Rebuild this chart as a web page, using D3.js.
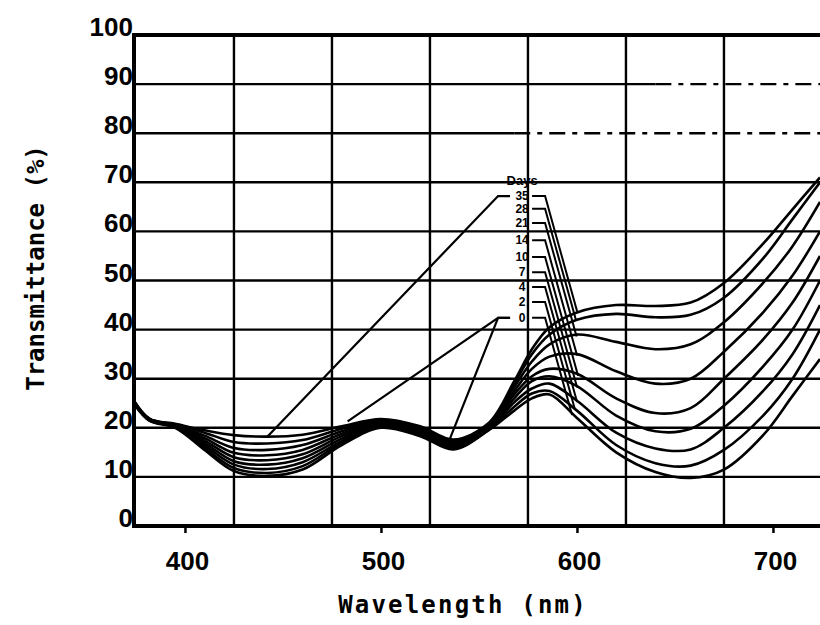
<!DOCTYPE html>
<html>
<head>
<meta charset="utf-8">
<script src="https://cdn.jsdelivr.net/npm/d3@7/dist/d3.min.js"></script>
<style>
  body { margin: 0; background: #fff; }
  svg { display: block; }
</style>
</head>
<body>
<svg id="chart" width="820" height="625"></svg>
<script>
// wavelengths where the spectra were read (nm)
const wavelengths = [374, 382, 395, 410, 425, 442, 460, 480, 500, 520, 537, 555, 568, 577, 586, 600, 620, 640, 658, 675, 695, 710, 724];

// transmittance (%) per storage day
const day35 = [25.5, 21.8, 20.8, 19.5, 18.5, 18.2, 18.6, 20.3, 21.8, 20.3, 17.6, 21.0, 29.5, 36.0, 40.5, 43.5, 45.0, 44.8, 45.5, 49.5, 57.5, 64.5, 71.0];
const day28 = [25.4, 21.8, 20.7, 19.0, 17.1, 16.8, 17.5, 19.8, 21.6, 20.1, 17.4, 20.8, 29.0, 35.0, 39.0, 42.0, 43.2, 42.5, 43.0, 46.5, 54.5, 62.5, 70.0];
const day21 = [25.3, 21.7, 20.6, 18.4, 15.9, 15.5, 16.5, 19.3, 21.4, 19.9, 17.2, 20.6, 28.3, 33.5, 37.0, 39.0, 37.5, 36.0, 37.0, 41.5, 49.5, 57.0, 66.0];
const day14 = [25.2, 21.7, 20.5, 17.9, 14.9, 14.4, 15.5, 18.8, 21.2, 19.6, 17.0, 20.4, 27.5, 32.0, 34.5, 35.0, 31.5, 29.0, 30.0, 35.5, 43.5, 51.0, 60.0];
const day10 = [25.1, 21.6, 20.4, 17.4, 14.0, 13.4, 14.6, 18.3, 21.0, 19.3, 16.7, 20.2, 26.8, 30.5, 32.0, 31.0, 26.0, 23.0, 24.0, 30.0, 38.0, 45.5, 55.0];
const day7  = [25.1, 21.6, 20.3, 16.9, 13.2, 12.5, 13.8, 17.8, 20.8, 19.0, 16.4, 20.0, 26.0, 29.5, 30.5, 28.5, 22.5, 19.3, 19.8, 24.5, 32.5, 40.0, 50.0];
const day4  = [25.0, 21.5, 20.2, 16.4, 12.5, 11.6, 13.0, 17.3, 20.5, 18.8, 16.1, 19.8, 25.2, 28.0, 29.0, 25.5, 19.0, 15.8, 15.6, 20.0, 27.5, 35.0, 45.0];
const day2  = [25.0, 21.5, 20.1, 15.9, 11.8, 10.8, 12.2, 16.9, 20.2, 18.5, 15.8, 19.6, 24.3, 27.0, 27.5, 23.5, 16.5, 12.8, 12.3, 15.5, 22.5, 30.0, 40.0];
const day0  = [24.9, 21.4, 20.0, 15.5, 11.2, 10.2, 11.5, 16.5, 20.0, 18.3, 15.6, 19.5, 23.5, 26.0, 26.8, 22.0, 15.0, 11.0,  9.8, 11.5, 18.5, 26.5, 34.0];

const dayNames = ["35", "28", "21", "14", "10", "7", "4", "2", "0"];
const seriesValues = [day35, day28, day21, day14, day10, day7, day4, day2, day0];

// label column (written at 572 nm), height of each label in %
const labelHeights = [67.2, 64.6, 61.7, 58.2, 54.8, 51.7, 48.7, 45.6, 42.4];
const headerHeight = 70.2;
// long pointer lines: from label -> [nm, %] on the curves
const pointers = [
  {from: "35", nm: 442, pct: 18.2},
  {from: "0",  nm: 483, pct: 21.3},
  {from: "0",  nm: 535, pct: 17.6}
];

const yTicks = [0, 10, 20, 30, 40, 50, 60, 70, 80, 90, 100];
const xTicks = [400, 500, 600, 700];
const xGrid = [425, 475, 525, 575, 625, 675];

const svg = d3.select("#chart");
const x = d3.scaleLinear().domain([374, 724]).range([134, 820]);
const y = d3.scaleLinear().domain([0, 100]).range([526, 35]);

const numFont = "'Liberation Sans', Arial, sans-serif";
const monoFont = "'DejaVu Sans Mono', 'Liberation Mono', monospace";

// --- grid ---
const grid = svg.append("g").attr("stroke", "#000").attr("stroke-width", 2.4);
yTicks.filter(v => v > 0 && v < 100).forEach(v => {
  // the 80 and 90 lines are broken on the right in the scan
  const solidTo = v === 80 ? x(568) : v === 90 ? x(640) : x(724);
  grid.append("line")
    .attr("x1", x(374)).attr("x2", solidTo)
    .attr("y1", y(v)).attr("y2", y(v));
  if (solidTo < x(724)) {
    grid.append("line")
      .attr("x1", solidTo).attr("x2", x(724))
      .attr("y1", y(v)).attr("y2", y(v))
      .attr("stroke-dasharray", "16,7,5,7");
  }
});
xGrid.forEach(v => {
  grid.append("line")
    .attr("x1", x(v)).attr("x2", x(v))
    .attr("y1", y(100)).attr("y2", y(0));
});

// --- frame ---
svg.append("path")
  .attr("d", `M${x(724)},${y(100)} H${x(374)} V${y(0)} H${x(724)}`)
  .attr("fill", "none")
  .attr("stroke", "#000")
  .attr("stroke-width", 4);

// --- axes text ---
svg.append("g")
  .attr("transform", `translate(0,${y(0)})`)
  .call(d3.axisBottom(x).tickValues(xTicks).tickSize(7).tickPadding(19))
  .call(g => g.select(".domain").remove())
  .call(g => g.selectAll("line").attr("stroke", "#000").attr("stroke-width", 2.5))
  .selectAll("text")
  .attr("fill", "#000")
  .attr("dx", "2px")
  .style("font-family", numFont)
  .style("font-weight", "bold")
  .style("font-size", "26px");

svg.append("g")
  .selectAll("text")
  .data(yTicks)
  .enter().append("text")
    .attr("x", 133)
    .attr("y", d => y(d) + 1)
    .attr("text-anchor", "end")
    .style("font-family", numFont)
    .style("font-weight", "bold")
    .style("font-size", "26px")
    .text(d => d);

svg.append("text")
  .attr("x", 463)
  .attr("y", 613)
  .attr("text-anchor", "middle")
  .style("font-family", monoFont)
  .style("font-weight", "bold")
  .style("font-size", "24px")
  .style("letter-spacing", "2.2px")
  .text("Wavelength (nm)");

svg.append("text")
  .attr("transform", "translate(44,268) rotate(-90)")
  .attr("text-anchor", "middle")
  .style("font-family", monoFont)
  .style("font-weight", "bold")
  .style("font-size", "24px")
  .text("Transmittance (%)");

// --- spectra ---
svg.append("clipPath").attr("id", "plot")
  .append("rect")
  .attr("x", x(374)).attr("y", y(100))
  .attr("width", x(724) - x(374)).attr("height", y(0) - y(100));

const line = d3.line()
  .x((d, i) => x(wavelengths[i]))
  .y(d => y(d))
  .curve(d3.curveCatmullRom.alpha(0.5));

const curves = svg.append("g").attr("clip-path", "url(#plot)");
seriesValues.forEach(vals => {
  curves.append("path")
    .datum(vals)
    .attr("fill", "none")
    .attr("stroke", "#000")
    .attr("stroke-width", 2.6)
    .attr("d", line);
});

// --- day labels with pointer lines ---
const lx = x(572);
const ann = svg.append("g");
ann.append("text")
  .attr("x", lx).attr("y", y(headerHeight) + 4)
  .attr("text-anchor", "middle")
  .style("font-family", numFont)
  .style("font-weight", "bold")
  .style("font-size", "13px")
  .text("Days");

function curvePixelY(vals, px) {
  const pts = vals.map((v, i) => [x(wavelengths[i]), y(v)]);
  for (let i = 1; i < pts.length; i++) {
    if (px <= pts[i][0]) {
      const t = (px - pts[i - 1][0]) / (pts[i][0] - pts[i - 1][0]);
      return pts[i - 1][1] + t * (pts[i][1] - pts[i - 1][1]);
    }
  }
  return pts[pts.length - 1][1];
}

dayNames.forEach((name, i) => {
  const ly = y(labelHeights[i]);
  ann.append("text")
    .attr("x", lx).attr("y", ly + 4)
    .attr("text-anchor", "middle")
    .style("font-family", numFont)
    .style("font-weight", "bold")
    .style("font-size", "12px")
    .text(name);

  // stub to the right, then a steep line down to the curve
  const sx = lx + 23;
  let ex = sx, ey = ly;
  for (let t = 0; t < 200; t += 0.5) {
    const px = sx + t, py = ly + 3.6 * t;
    if (py >= curvePixelY(seriesValues[i], px)) { ex = px; ey = py; break; }
  }
  ann.append("path")
    .attr("d", `M${lx + 10},${ly} H${sx} L${ex},${ey}`)
    .attr("fill", "none")
    .attr("stroke", "#000")
    .attr("stroke-width", 2);
});

pointers.forEach(p => {
  const ly = y(labelHeights[dayNames.indexOf(p.from)]);
  ann.append("path")
    .attr("d", `M${lx - 12},${ly} H${lx - 24} L${x(p.nm)},${y(p.pct)}`)
    .attr("fill", "none")
    .attr("stroke", "#000")
    .attr("stroke-width", 2.2);
});
</script>
</body>
</html>
